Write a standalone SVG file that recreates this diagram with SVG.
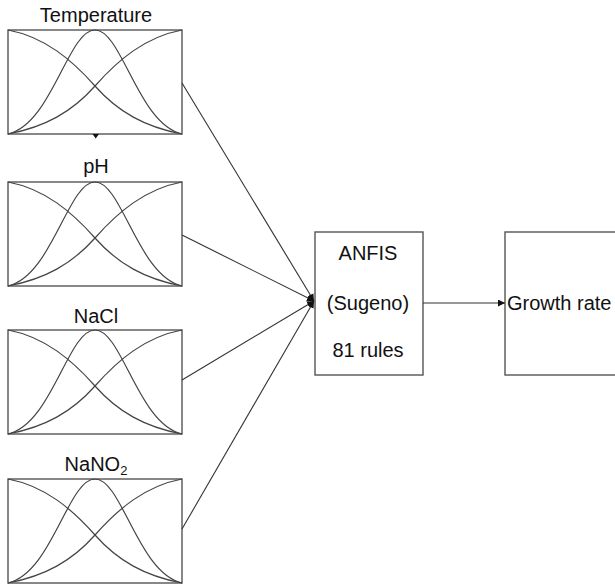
<svg xmlns="http://www.w3.org/2000/svg" width="615" height="586" viewBox="0 0 615 586">
<style>
.box{fill:#fff;stroke:#555;stroke-width:1.4}
.mf{fill:none;stroke:#444;stroke-width:1.2}
.lbl{font-family:"Liberation Sans",Arial,sans-serif;font-size:20px;fill:#111}
.con{stroke:#333;stroke-width:1.1;fill:none}
</style>
<defs>
<marker id="ah" viewBox="0 0 10 10" refX="10" refY="5" markerWidth="7" markerHeight="7" orient="auto" markerUnits="userSpaceOnUse"><path d="M0,0 L10,5 L0,10 z" fill="#111"/></marker>
<g id="mfs">
<path class="mf" d="M8,30 C45,37 72,60 95,86 C118,112 145,127 182,134"/>
<path class="mf" d="M8,134 C45,127 72,112 95,86 C118,60 145,37 182,30"/>
<path class="mf" d="M8,134 C52,124 68,30 95,30 C122,30 138,124 182,134"/>
</g>
</defs>
<rect width="615" height="586" fill="#fff"/>
<g id="temperature">
<rect class="box" x="8" y="30" width="174" height="104"/>
<use href="#mfs"/>
<text class="lbl" x="96" y="22" text-anchor="middle">Temperature</text>
<path d="M92.5,134 L99,134 L95.7,138.5 z" fill="#111"/>
</g>
<g id="ph">
<rect class="box" x="8" y="182" width="174" height="104"/>
<use href="#mfs" transform="translate(0,152)"/>
<text class="lbl" x="96" y="173" text-anchor="middle">pH</text>
</g>
<g id="nacl">
<rect class="box" x="8" y="330" width="174" height="104"/>
<use href="#mfs" transform="translate(0,300)"/>
<text class="lbl" x="96" y="323" text-anchor="middle">NaCl</text>
</g>
<g id="nano2">
<rect class="box" x="8" y="479" width="174" height="104"/>
<use href="#mfs" transform="translate(0,449)"/>
<text class="lbl" x="96" y="471" text-anchor="middle">NaNO<tspan font-size="13" dy="4">2</tspan></text>
</g>
<g id="anfis">
<rect class="box" x="315" y="232" width="108" height="143"/>
<text class="lbl" x="368" y="260" text-anchor="middle">ANFIS</text>
<text class="lbl" x="368" y="310" text-anchor="middle">(Sugeno)</text>
<text class="lbl" x="368" y="357" text-anchor="middle">81 rules</text>
</g>
<g id="growth">
<rect class="box" x="505" y="232" width="120" height="143"/>
<text class="lbl" x="507" y="310">Growth rate</text>
</g>
<g id="connectors">
<line class="con" x1="182" y1="83" x2="314" y2="301" marker-end="url(#ah)"/>
<line class="con" x1="182" y1="235" x2="314" y2="301" marker-end="url(#ah)"/>
<line class="con" x1="182" y1="380" x2="314" y2="301" marker-end="url(#ah)"/>
<line class="con" x1="182" y1="529" x2="314" y2="301" marker-end="url(#ah)"/>
<line class="con" x1="423" y1="303" x2="505" y2="303" marker-end="url(#ah)"/>
</g>
</svg>
